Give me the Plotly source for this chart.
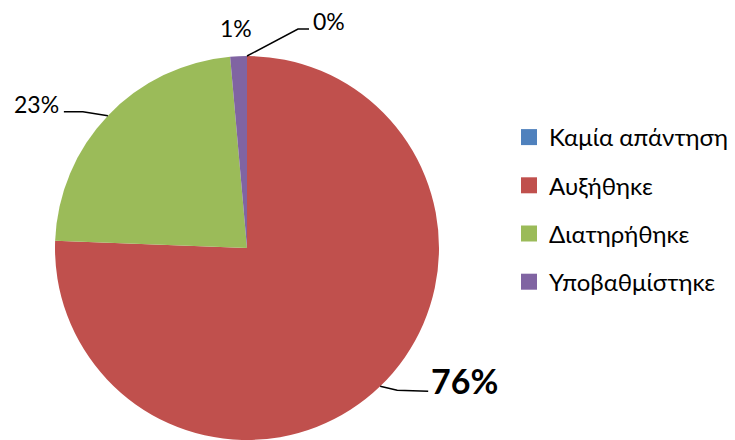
import math
import plotly.graph_objects as go

# Data
categories = ["Καμία απάντηση", "Αυξήθηκε", "Διατηρήθηκε", "Υποβαθμίστηκε"]
values = [0.0, 75.6, 23.0, 1.4]
pct_labels = ["0%", "76%", "23%", "1%"]
colors = ["#4F81BD", "#C0504D", "#9BBB59", "#8064A2"]

# page body has an 8px margin; figure sized to fill the rest of the window
OFF = 8
W, H = 735 - OFF, 440 - OFF
FONT = "Lato, 'Noto Sans', 'Open Sans', sans-serif"


def px(x):
    return (x - OFF) / W


def py(y):
    return 1 - (y - OFF) / H


# pie geometry (window pixels)
cx, top_y, r = 247, 56, 192
cy = top_y + r

fig = go.Figure()
fig.add_trace(go.Pie(
    labels=categories, values=values, sort=False, direction="clockwise",
    rotation=0, marker=dict(colors=colors, line=dict(width=0)),
    textinfo="none", hoverinfo="label+percent", showlegend=False,
    domain=dict(x=[px(cx - r), px(cx + r)], y=[py(top_y + 2 * r), py(top_y)]),
))

# legend entries
for i, (c, col) in enumerate(zip(categories, colors)):
    fig.add_trace(go.Scatter(
        x=[None], y=[None], mode="markers", name=c, legendgroup=f"g{i}",
        marker=dict(symbol="square", size=16, color=col, line=dict(width=0)),
        showlegend=True, hoverinfo="skip",
    ))

# label style: (elbow offset, end offset, text offset, anchor, size, bold)
label_style = {
    "0%": ((51, -27), (62, -27), (65, -35), "left", 23, False),
    "76%": ((17, 4), (48, 5), (50, -6), "left", 34, True),
    "23%": ((-25, -4), (-44, -4), (-48, -12), "right", 23, False),
    "1%": (None, None, (-3, -28), "center", 23, False),
}

total = sum(values)
cum = 0.0
shapes = []
annotations = []
for v, lab in zip(values, pct_labels):
    mid = (cum + v / 2) / total * 2 * math.pi
    cum += v
    ex = cx + r * math.sin(mid)
    ey = cy - r * math.cos(mid)
    elbow, end, toff, anchor, size, bold = label_style[lab]
    if elbow is not None:
        path = (f"M {px(ex)},{py(ey)} L {px(ex + elbow[0])},{py(ey + elbow[1])} "
                f"L {px(ex + end[0])},{py(ey + end[1])}")
        shapes.append(dict(type="path", path=path, xref="paper", yref="paper",
                           line=dict(color="black", width=1.5)))
    text = f"<b>{lab}</b>" if bold else lab
    annotations.append(dict(
        x=px(ex + toff[0]), y=py(ey + toff[1]), xref="paper", yref="paper",
        text=text, showarrow=False, xanchor=anchor, yanchor="middle",
        borderpad=0, font=dict(family=FONT, size=size, color="black"),
    ))

fig.update_layout(
    width=W, height=H,
    margin=dict(l=0, r=0, t=0, b=0),
    paper_bgcolor="white", plot_bgcolor="white",
    xaxis=dict(visible=False), yaxis=dict(visible=False),
    shapes=shapes, annotations=annotations,
    legend=dict(
        x=px(509), y=py(115), xanchor="left", yanchor="top",
        traceorder="grouped", tracegroupgap=14,
        font=dict(family=FONT, size=24, color="black"),
        bgcolor="rgba(0,0,0,0)", itemclick=False, itemdoubleclick=False,
    ),
    showlegend=True,
)

fig.write_html("out.html")
